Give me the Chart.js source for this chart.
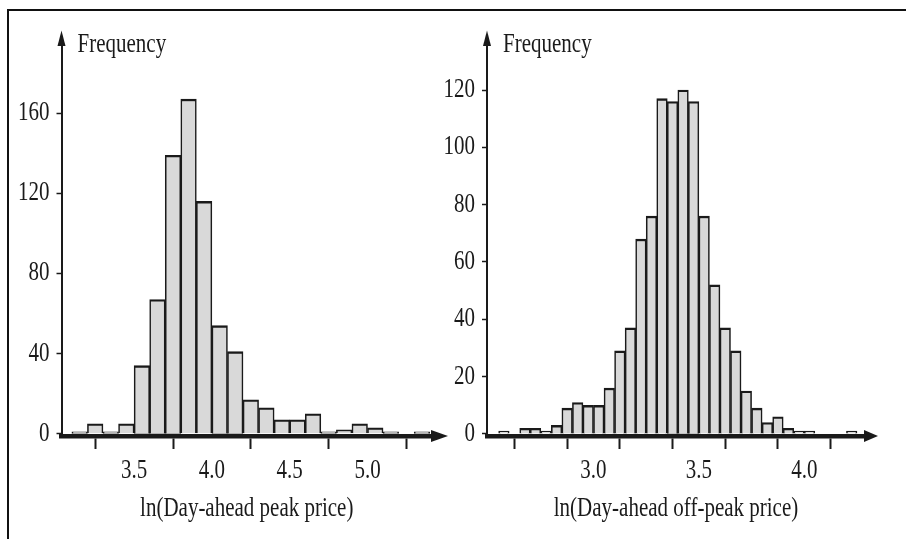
<!DOCTYPE html>
<html>
<head>
<meta charset="utf-8">
<script src="https://cdn.jsdelivr.net/npm/chart.js@4.4.1/dist/chart.umd.min.js"></script>
<style>
  html, body { margin: 0; padding: 0; background: #ffffff; }
  body { width: 906px; height: 539px; position: relative; overflow: hidden; }
  #frame { position: absolute; left: 7px; top: 9px; width: 905px; height: 535px;
           border-top: 2px solid #111; border-left: 2px solid #111; }
  canvas { position: absolute; top: 0; }
  #cLeft { left: 0; }
  #cRight { left: 420px; }
</style>
</head>
<body>
<div id="frame"></div>
<canvas id="cLeft" width="460" height="539"></canvas>
<canvas id="cRight" width="486" height="539"></canvas>
<script>
// ---------- Data ----------
// Left: ln(Day-ahead peak price), bin width 0.1, bin centres
const peakBinCenters = [3.15, 3.25, 3.35, 3.45, 3.55, 3.65, 3.75, 3.85, 3.95, 4.05, 4.15, 4.25,
                        4.35, 4.45, 4.55, 4.65, 4.75, 4.85, 4.95, 5.05, 5.15, 5.25, 5.35];
const peakCounts     = [1, 5, 1, 5, 34, 67, 139, 167, 116, 54, 41, 17,
                        13, 7, 7, 10, 1, 2, 5, 3, 1, 0, 1];
const peakXTicks     = [3.5, 4.0, 4.5, 5.0];
const peakXLabels    = [3.5, 4.0, 4.5, 5.0];
const peakYTicks     = [0, 40, 80, 120, 160];

// Right: ln(Day-ahead off-peak price), bin width 0.05, bin centres
const offBinCenters = [2.575, 2.625, 2.675, 2.725, 2.775, 2.825, 2.875, 2.925, 2.975, 3.025,
                       3.075, 3.125, 3.175, 3.225, 3.275, 3.325, 3.375, 3.425, 3.475, 3.525,
                       3.575, 3.625, 3.675, 3.725, 3.775, 3.825, 3.875, 3.925, 3.975, 4.025,
                       4.075, 4.125, 4.175, 4.225];
const offCounts     = [1, 0, 2, 2, 1, 3, 9, 11, 10, 10,
                       16, 29, 37, 68, 76, 117, 116, 120, 116, 76,
                       52, 37, 29, 15, 9, 4, 6, 2, 1, 1,
                       0, 0, 0, 1];
const offXTicks     = [2.75, 3.0, 3.25, 3.5, 3.75, 4.0, 4.25];
const offXLabels    = [3.0, 3.5, 4.0];
const offYTicks     = [0, 20, 40, 60, 80, 100, 120];

const yTitle = 'Frequency';
const peakXTitle = 'ln(Day-ahead peak price)';
const offXTitle = 'ln(Day-ahead off-peak price)';

// ---------- Styling ----------
const FONT_FAMILY = '"Liberation Serif", "Times New Roman", serif';
const FONT_SIZE = 21;
const TEXT_SY = 1.25;       // the reference typeface is drawn vertically elongated
const INK = '#1a1a1a';
const BAR_FILL = '#d9d9d9';

const textStretch = {
  id: 'textStretch',
  beforeDraw(chart) {
    const ctx = chart.ctx;
    if (ctx.__stretched) return;
    const orig = ctx.fillText;
    ctx.fillText = function (t, x, y, mw) {
      this.save();
      this.translate(x, y);
      this.scale(1, TEXT_SY);
      if (mw === undefined) orig.call(this, t, 0, 0); else orig.call(this, t, 0, 0, mw);
      this.restore();
    };
    ctx.__stretched = true;
  }
};

const axisDecor = {
  id: 'axisDecor',
  afterDraw(chart, args, opts) {
    const {ctx, chartArea: a} = chart;
    ctx.save();
    ctx.fillStyle = INK;
    // y arrow head
    ctx.beginPath();
    ctx.moveTo(a.left, opts.yTip);
    ctx.lineTo(a.left - 4, a.top + 1);
    ctx.lineTo(a.left + 4, a.top + 1);
    ctx.closePath();
    ctx.fill();
    // x arrow head
    ctx.beginPath();
    ctx.moveTo(a.right + opts.xTipLen, a.bottom);
    ctx.lineTo(a.right - 1, a.bottom - 6);
    ctx.lineTo(a.right - 1, a.bottom + 6);
    ctx.closePath();
    ctx.fill();
    // y-axis title beside the arrow
    ctx.font = FONT_SIZE + 'px ' + FONT_FAMILY;
    ctx.textBaseline = 'alphabetic';
    ctx.textAlign = 'left';
    ctx.fillText(opts.title, a.left + 16, 52);
    ctx.restore();
  }
};

function makeChart(canvasId, centers, counts, cfg) {
  const font = {family: FONT_FAMILY, size: FONT_SIZE};
  return new Chart(document.getElementById(canvasId), {
    type: 'bar',
    data: {
      datasets: [{
        data: centers.map((c, i) => ({x: c, y: counts[i]})),
        backgroundColor: BAR_FILL,
        borderColor: INK,
        borderWidth: {top: 2.4, left: 1.6, right: 1.6, bottom: 0},
        borderSkipped: false,
        barPercentage: 1,
        categoryPercentage: 1
      }]
    },
    options: {
      responsive: false,
      devicePixelRatio: 1,
      animation: false,
      events: [],
      layout: {padding: {left: 0, right: cfg.padRight, top: 45, bottom: 0}},
      plugins: {
        legend: {display: false},
        tooltip: {enabled: false},
        axisDecor: {yTip: 30.5, xTipLen: cfg.xTipLen, title: yTitle}
      },
      scales: {
        x: {
          type: 'linear',
          min: cfg.xMin, max: cfg.xMax,
          offset: false,
          afterBuildTicks: s => { s.ticks = cfg.xTicks.map(v => ({value: v})); },
          afterFit: s => { s.height = 103; },
          border: {display: true, color: INK, width: 4.5, z: 1},
          grid: {display: true, drawOnChartArea: false, drawTicks: true,
                 tickLength: 13, tickWidth: 2, tickColor: INK},
          ticks: {
            autoSkip: false, maxRotation: 0, padding: 10, color: INK, font,
            callback: v => cfg.xLabels.some(l => Math.abs(l - v) < 1e-9) ? v.toFixed(1) : ''
          },
          title: {display: true, text: cfg.xTitle, color: INK, font,
                  padding: {top: 0, bottom: 17}}
        },
        y: {
          min: cfg.yMin, max: cfg.yMax,
          afterBuildTicks: s => { s.ticks = cfg.yTicks.map(v => ({value: v})); },
          afterFit: s => { s.width = cfg.yWidth; },
          border: {display: true, color: INK, width: 2},
          grid: {display: true, drawOnChartArea: false, drawTicks: true,
                 tickLength: 5, tickWidth: 1.5, tickColor: INK},
          ticks: {padding: 7, color: INK, font}
        }
      }
    },
    plugins: [textStretch, axisDecor]
  });
}

makeChart('cLeft', peakBinCenters, peakCounts, {
  xMin: 3.0334, xMax: 5.4145, yMin: -1.1, yMax: 194.0, yWidth: 61.5, padRight: 28, xTipLen: 16,
  xTicks: peakXTicks, xLabels: peakXLabels, yTicks: peakYTicks, xTitle: peakXTitle
});
makeChart('cRight', offBinCenters, offCounts, {
  xMin: 2.4948, xMax: 4.288, yMin: -0.7, yMax: 135.7, yWidth: 67, padRight: 41, xTipLen: 13,
  xTicks: offXTicks, xLabels: offXLabels, yTicks: offYTicks, xTitle: offXTitle
});
</script>
</body>
</html>
